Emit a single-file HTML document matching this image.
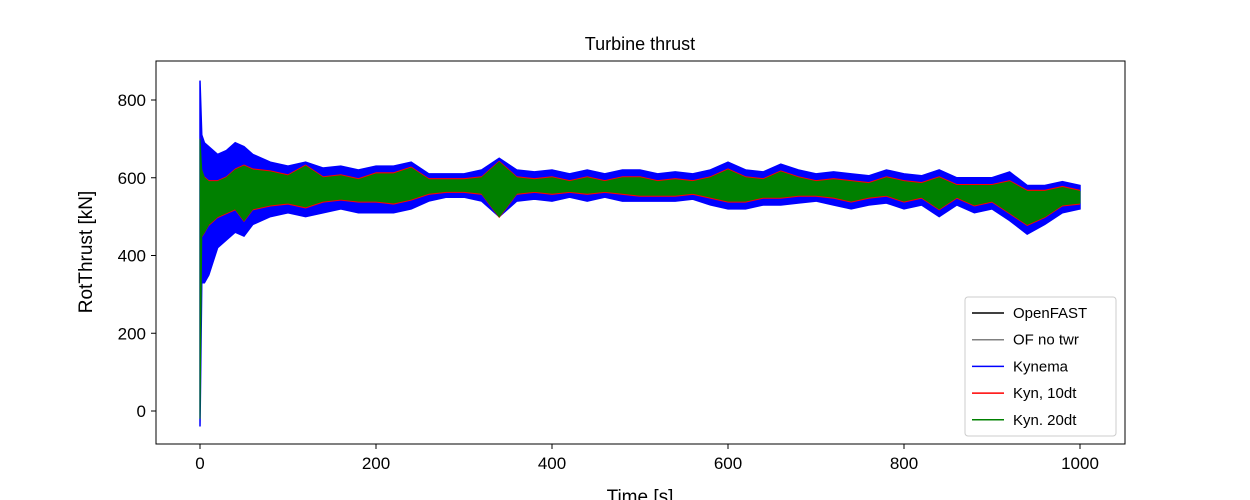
<!DOCTYPE html>
<html><head><meta charset="utf-8"><style>
body{margin:0;background:#fff;}
svg{display:block;font-family:"Liberation Sans","DejaVu Sans",sans-serif;}
</style></head><body>
<svg id="chart" width="1250" height="500">
<rect width="1250" height="500" fill="#fff"/>
<text x="640" y="50" text-anchor="middle" font-size="18">Turbine thrust</text>
<g id="plot"></g>
<rect x="156" y="61" width="969" height="383" fill="none" stroke="#000" stroke-width="1"/>
<g id="ticks"></g>
<text x="640" y="503" text-anchor="middle" font-size="19">Time [s]</text>
<text transform="translate(92,252) rotate(-90)" text-anchor="middle" font-size="19">RotThrust [kN]</text>
<g>
<rect x="965" y="297" width="151" height="139" rx="3" fill="#fff" fill-opacity="0.85" stroke="#ccc"/>
</g>
<g id="legend"></g>
</svg>
<script>
const times=[0,2,5,10,20,30,40,50,60,80,100,120,140,160,180,200,220,240,260,280,300,320,340,360,380,400,420,440,460,480,500,520,540,560,580,600,620,640,660,680,700,720,740,760,780,800,820,840,860,880,900,920,940,960,980,1000];
const blueLo=[-40,330,330,350,420,440,460,450,480,500,510,500,510,520,510,510,510,520,540,550,550,540,500,540,545,540,550,540,550,540,540,540,540,545,530,520,520,530,530,535,540,530,520,530,535,520,530,500,530,510,520,490,455,480,510,520];
const blueHi=[850,710,690,680,660,670,690,680,660,640,630,640,625,630,620,630,630,640,610,610,610,620,650,620,615,620,610,620,610,620,620,610,615,610,620,640,620,615,635,620,610,615,610,605,620,610,605,620,600,600,600,615,580,580,590,580];
const greenLo=[-20,450,460,480,500,510,520,490,520,530,535,525,540,545,540,540,535,545,560,565,565,560,500,560,565,560,565,560,565,560,555,555,555,560,550,540,540,550,550,555,555,550,540,550,555,540,550,520,550,530,540,510,480,500,530,535];
const greenHi=[700,620,600,590,590,600,620,630,620,615,605,630,600,605,595,610,610,625,595,595,595,600,640,600,595,600,590,600,590,600,600,590,595,590,600,620,600,595,615,600,590,595,590,585,600,590,585,600,580,580,580,590,565,565,575,565];
const redLo=[-30,446,456,476,496,506,516,486,516,526,531,521,536,541,536,536,531,541,556,561,561,556,496,556,561,556,561,556,561,556,551,551,551,556,546,536,536,546,546,551,551,546,536,546,551,536,546,516,546,526,536,506,476,496,526,531];
const redHi=[710,624,604,594,594,604,624,634,624,619,609,634,604,609,599,614,614,629,599,599,599,604,644,604,599,604,594,604,594,604,604,594,599,594,604,624,604,599,619,604,594,599,594,589,604,594,589,604,584,584,584,594,569,569,579,569];
const xTicks=[0,200,400,600,800,1000];
const yTicks=[0,200,400,600,800];
const X=t=>200+t*0.88, Y=v=>411-v*0.38875;
const NS="http://www.w3.org/2000/svg";
const plot=document.getElementById('plot');
function band(lo,hi,color,name,sw){
  let pts=[];
  times.forEach((t,i)=>pts.push(X(t)+','+Y(hi[i])));
  for(let i=times.length-1;i>=0;i--)pts.push(X(times[i])+','+Y(lo[i]));
  const p=document.createElementNS(NS,'polygon');
  p.setAttribute('points',pts.join(' '));
  p.setAttribute('fill',color);p.setAttribute('stroke',color);p.setAttribute('stroke-width',sw);
  
  
  plot.appendChild(p);
}
band(blueLo,blueHi,'#0000ff','kynema-series','1.5');
band(redLo,redHi,'#ff0000','kyn-10dt-series','0');
band(greenLo,greenHi,'#008000','kyn-20dt-series','1');
const tk=document.getElementById('ticks');
xTicks.forEach(v=>{
  const l=document.createElementNS(NS,'line');
  l.setAttribute('x1',X(v));l.setAttribute('x2',X(v));l.setAttribute('y1',444);l.setAttribute('y2',449);l.setAttribute('stroke','#000');
  
  
  tk.appendChild(l);
  const t=document.createElementNS(NS,'text');
  t.setAttribute('x',X(v));t.setAttribute('y',469);t.setAttribute('text-anchor','middle');t.setAttribute('font-size','17');
  t.textContent=v;
  
  
  tk.appendChild(t);
});
yTicks.forEach(v=>{
  const l=document.createElementNS(NS,'line');
  l.setAttribute('x1',151);l.setAttribute('x2',156);l.setAttribute('y1',Y(v));l.setAttribute('y2',Y(v));l.setAttribute('stroke','#000');
  
  
  tk.appendChild(l);
  const t=document.createElementNS(NS,'text');
  t.setAttribute('x',146);t.setAttribute('y',Y(v)+6);t.setAttribute('text-anchor','end');t.setAttribute('font-size','17');
  t.textContent=v;
  
  
  tk.appendChild(t);
});
const legNames=['OpenFAST','OF no twr','Kynema','Kyn, 10dt','Kyn. 20dt'];
const legColors=['#000000','#808080','#0000ff','#ff0000','#008000'];
const lg=document.getElementById('legend');
legNames.forEach((n,i)=>{
  const y=313+i*26.7;
  const l=document.createElementNS(NS,'line');
  l.setAttribute('x1',972);l.setAttribute('x2',1004);l.setAttribute('y1',y);l.setAttribute('y2',y);l.setAttribute('stroke',legColors[i]);l.setAttribute('stroke-width','1.5');
  
  
  lg.appendChild(l);
  const t=document.createElementNS(NS,'text');
  t.setAttribute('x',1013);t.setAttribute('y',y+5);t.setAttribute('font-size','15');
  t.textContent=n;
  
  
  lg.appendChild(t);
});
</script>
</body></html>
